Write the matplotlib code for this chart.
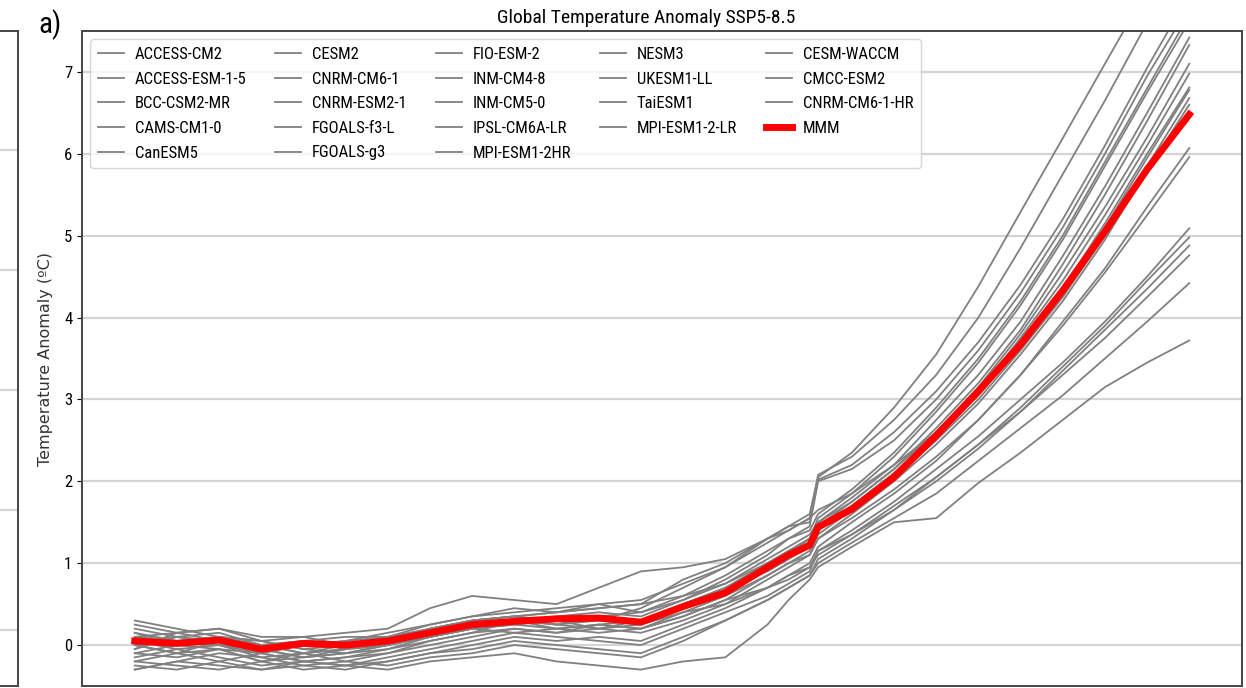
import matplotlib
matplotlib.use("Agg")
import matplotlib.pyplot as plt
import matplotlib.font_manager as fm

years = [1850, 1860, 1870, 1880, 1890, 1900, 1910, 1920, 1930, 1940, 1950, 1960, 1970, 1980,
         1990, 2000, 2005, 2010, 2012, 2020, 2030, 2040, 2050, 2060, 2070, 2080, 2090, 2100]

access_cm2 = [-0.15, -0.05, 0.0, -0.1, -0.2, -0.15, -0.1, 0.05, 0.15, 0.3, 0.2, 0.25, 0.2, 0.4,
              0.6, 0.95, 1.1, 1.3, 1.55, 1.85, 2.3, 2.85, 3.45, 4.15, 4.95, 5.85, 6.75, 7.62]
access_esm = [0.05, -0.05, -0.15, -0.25, -0.2, -0.15, -0.05, 0.05, 0.15, 0.2, 0.15, 0.2, 0.15, 0.3,
              0.5, 0.8, 0.95, 1.1, 1.3, 1.6, 2.0, 2.45, 2.95, 3.55, 4.2, 4.95, 5.8, 6.6]
bcc_csm2 = [0.25, 0.15, 0.2, 0.05, 0.1, 0.0, 0.05, 0.15, 0.25, 0.3, 0.3, 0.35, 0.3, 0.45,
            0.6, 0.85, 1.0, 1.1, 1.3, 1.55, 1.9, 2.3, 2.75, 3.3, 3.9, 4.55, 5.25, 5.96]
cams_cm1 = [-0.25, -0.3, -0.2, -0.1, -0.2, -0.25, -0.15, -0.05, 0.05, 0.15, 0.1, 0.05, 0.0, 0.2,
            0.4, 0.6, 0.75, 0.9, 1.15, 1.4, 1.75, 2.15, 2.55, 3.0, 3.45, 3.95, 4.5, 5.09]
canesm5 = [0.1, 0.15, 0.05, -0.1, 0.0, 0.05, 0.1, 0.25, 0.35, 0.45, 0.4, 0.5, 0.55, 0.75,
           0.95, 1.3, 1.45, 1.6, 2.05, 2.35, 2.9, 3.55, 4.38, 5.29, 6.19, 7.1, 8.0, 8.9]
cesm2 = [0.05, 0.1, 0.15, 0.0, 0.05, -0.05, 0.0, 0.1, 0.25, 0.3, 0.35, 0.4, 0.35, 0.55,
         0.8, 1.1, 1.3, 1.4, 1.6, 1.9, 2.35, 2.9, 3.5, 4.2, 5.0, 5.9, 6.8, 7.7]
cnrm_cm6 = [0.0, 0.05, 0.1, 0.05, -0.05, -0.1, 0.0, 0.15, 0.2, 0.3, 0.25, 0.2, 0.3, 0.5,
            0.7, 0.9, 1.05, 1.2, 1.45, 1.7, 2.1, 2.6, 3.15, 3.8, 4.55, 5.35, 6.2, 7.1]
cnrm_esm2 = [0.1, 0.05, 0.0, -0.05, -0.15, -0.05, 0.0, 0.1, 0.2, 0.25, 0.3, 0.3, 0.25, 0.45,
             0.65, 0.95, 1.1, 1.25, 1.5, 1.8, 2.2, 2.75, 3.3, 3.95, 4.75, 5.6, 6.5, 7.42]
fgoals_f3 = [-0.3, -0.2, -0.1, -0.15, -0.25, -0.3, -0.2, -0.1, 0.0, 0.1, 0.05, 0.1, 0.05, 0.25,
             0.45, 0.7, 0.85, 1.0, 1.2, 1.5, 1.85, 2.25, 2.75, 3.3, 3.95, 4.6, 5.35, 6.07]
fgoals_g3 = [0.0, -0.1, -0.2, -0.3, -0.25, -0.2, -0.25, -0.15, -0.1, 0.0, -0.05, -0.1, -0.15, 0.05,
             0.3, 0.55, 0.7, 0.85, 1.05, 1.3, 1.65, 2.05, 2.45, 2.9, 3.4, 3.9, 4.45, 4.98]
fio_esm2 = [0.3, 0.2, 0.1, 0.0, 0.05, 0.1, 0.1, 0.2, 0.3, 0.35, 0.4, 0.45, 0.5, 0.6,
            0.75, 1.0, 1.15, 1.3, 1.45, 1.7, 2.1, 2.55, 3.05, 3.65, 4.35, 5.1, 5.95, 6.78]
inm_cm48 = [-0.3, -0.2, -0.25, -0.3, -0.2, -0.25, -0.3, -0.2, -0.15, -0.1, -0.2, -0.25, -0.3, -0.2,
            -0.15, 0.25, 0.55, 0.8, 0.95, 1.2, 1.5, 1.55, 1.98, 2.35, 2.75, 3.15, 3.45, 3.72]
inm_cm50 = [-0.2, -0.25, -0.3, -0.2, -0.3, -0.25, -0.2, -0.1, -0.05, 0.05, 0.0, -0.05, -0.1, 0.1,
            0.3, 0.55, 0.7, 0.85, 1.0, 1.25, 1.55, 1.85, 2.25, 2.65, 3.05, 3.5, 3.95, 4.42]
ipsl_cm6a = [-0.05, 0.15, 0.2, 0.1, 0.1, 0.15, 0.2, 0.45, 0.6, 0.55, 0.5, 0.7, 0.9, 0.95,
             1.05, 1.3, 1.4, 1.55, 1.65, 1.85, 2.2, 2.6, 3.05, 3.65, 4.35, 5.15, 6.0, 6.81]
mpi_hr = [0.15, 0.05, 0.1, -0.05, -0.15, -0.1, 0.0, 0.1, 0.2, 0.25, 0.2, 0.15, 0.2, 0.35,
          0.55, 0.7, 0.85, 0.95, 1.15, 1.35, 1.65, 2.0, 2.4, 2.85, 3.35, 3.85, 4.35, 4.88]
nesm3 = [-0.2, -0.1, 0.05, 0.0, -0.1, -0.2, -0.1, 0.0, 0.1, 0.2, 0.15, 0.25, 0.3, 0.5,
         0.7, 1.0, 1.15, 1.3, 1.45, 1.75, 2.15, 2.65, 3.2, 3.85, 4.65, 5.5, 6.4, 7.33]
ukesm1 = [0.2, 0.1, 0.0, -0.15, -0.1, -0.05, 0.05, 0.2, 0.3, 0.35, 0.25, 0.3, 0.45, 0.7,
          0.95, 1.25, 1.4, 1.55, 2.08, 2.3, 2.75, 3.3, 4.0, 4.85, 5.75, 6.65, 7.6, 8.5]
taiesm1 = [0.15, 0.0, -0.05, -0.1, 0.0, 0.05, 0.15, 0.25, 0.35, 0.4, 0.45, 0.5, 0.4, 0.55,
           0.75, 1.05, 1.2, 1.35, 1.5, 1.75, 2.15, 2.6, 3.1, 3.75, 4.45, 5.25, 6.1, 6.98]
mpi_lr = [-0.05, 0.1, 0.05, 0.0, -0.1, -0.05, 0.05, 0.2, 0.3, 0.35, 0.3, 0.2, 0.25, 0.4,
          0.5, 0.7, 0.8, 0.95, 1.1, 1.35, 1.7, 2.05, 2.45, 2.85, 3.3, 3.75, 4.25, 4.76]
cesm_waccm = [-0.1, 0.0, 0.1, 0.05, -0.05, 0.0, 0.1, 0.15, 0.3, 0.35, 0.4, 0.45, 0.5, 0.8,
              1.0, 1.3, 1.45, 1.5, 2.02, 2.2, 2.6, 3.1, 3.7, 4.4, 5.2, 6.1, 7.05, 7.95]
cmcc_esm2 = [-0.1, -0.15, -0.05, -0.2, -0.1, 0.0, 0.05, 0.1, 0.2, 0.15, 0.2, 0.25, 0.2, 0.35,
             0.55, 0.85, 1.0, 1.15, 1.35, 1.65, 2.05, 2.5, 3.0, 3.6, 4.25, 5.0, 5.85, 6.68]
cnrm_cm6_hr = [0.0, -0.1, -0.05, -0.2, -0.15, -0.1, -0.05, 0.1, 0.2, 0.3, 0.25, 0.35, 0.4, 0.6,
               0.85, 1.15, 1.3, 1.45, 2.0, 2.15, 2.5, 3.0, 3.6, 4.3, 5.1, 6.0, 6.95, 7.8]

mmm = [0.05, 0.02, 0.06, -0.05, 0.02, 0.0, 0.05, 0.15, 0.25, 0.29, 0.32, 0.33, 0.28, 0.47,
       0.64, 0.95, 1.1, 1.22, 1.44, 1.66, 2.05, 2.56, 3.1, 3.67, 4.33, 5.05, 5.81, 6.48]

model_names = ['ACCESS-CM2', 'ACCESS-ESM-1-5', 'BCC-CSM2-MR', 'CAMS-CM1-0', 'CanESM5',
               'CESM2', 'CNRM-CM6-1', 'CNRM-ESM2-1', 'FGOALS-f3-L', 'FGOALS-g3',
               'FIO-ESM-2', 'INM-CM4-8', 'INM-CM5-0', 'IPSL-CM6A-LR', 'MPI-ESM1-2HR',
               'NESM3', 'UKESM1-LL', 'TaiESM1', 'MPI-ESM1-2-LR',
               'CESM-WACCM', 'CMCC-ESM2', 'CNRM-CM6-1-HR']
model_series = [access_cm2, access_esm, bcc_csm2, cams_cm1, canesm5,
                cesm2, cnrm_cm6, cnrm_esm2, fgoals_f3, fgoals_g3,
                fio_esm2, inm_cm48, inm_cm50, ipsl_cm6a, mpi_hr,
                nesm3, ukesm1, taiesm1, mpi_lr,
                cesm_waccm, cmcc_esm2, cnrm_cm6_hr]


def pick_narrow_font():
    '''look for a narrow sans font, the reference text is squeezed'''
    for fam in ['Roboto Condensed', 'Liberation Sans Narrow', 'Open Sans Condensed']:
        try:
            fm.findfont(fm.FontProperties(family=fam), fallback_to_default=False)
            return fam, None
        except ValueError:
            pass
    path = fm.findfont(fm.FontProperties(family='DejaVu Sans', stretch='condensed'))
    if 'Condensed' in path:
        return 'DejaVu Sans', 'condensed'
    return None, None


narrow, stretch = pick_narrow_font()
if narrow is not None:
    plt.rcParams['font.family'] = [narrow, 'DejaVu Sans']
    if stretch:
        plt.rcParams['font.stretch'] = stretch
    leg_size, title_size, tick_size = 12, 14, 12
else:
    plt.rcParams['font.family'] = ['DejaVu Sans']
    leg_size, title_size, tick_size = 10.2, 11.3, 11

W, H = 1246, 688
fig = plt.figure(figsize=(W / 100, H / 100), dpi=100)

# main panel
x0, x1, ytop, ybot = 82, 1242, 31, 686
ax = fig.add_axes([x0 / W, 1 - ybot / H, (x1 - x0) / W, (ybot - ytop) / H])

for name, vals in zip(model_names, model_series):
    ax.plot(years, vals, color='grey', lw=1.3, label=name)
ax.plot(years, mmm, color='red', lw=5, label='MMM')

ax.set_ylim(-0.5, 7.5)
ax.set_yticks(range(0, 8))
ax.tick_params(axis='y', labelsize=tick_size)
ax.tick_params(axis='x', labelbottom=False, length=0)
ax.grid(axis='y', color='#d4d4d4', lw=1.6)
ax.set_axisbelow(True)
for sp in ax.spines.values():
    sp.set_color('#444444')
    sp.set_linewidth(1.4)
ax.set_ylabel('Temperature Anomaly (ºC)', fontsize=11.5, family='DejaVu Sans',
              stretch='normal', color='#333333', labelpad=8)
ax.set_title('Global Temperature Anomaly SSP5-8.5', fontsize=title_size, x=0.486)

ax.legend(loc='upper left', ncol=5, fontsize=leg_size, handlelength=1.55,
          handletextpad=0.65, columnspacing=1.75, labelspacing=0.58,
          borderaxespad=0.5, borderpad=0.45)

fig.text(38 / W, 1 - 33 / H, 'a)', fontsize=21, ha='left', va='baseline')

# edge of the neighbouring panel on the left
axl = fig.add_axes([-0.1, 1 - ybot / H, 0.1 + 18 / W, (ybot - ytop) / H])
axl.set_ylim(-0.47, 4.99)
axl.set_yticks(range(0, 5))
axl.set_xticks([])
axl.tick_params(axis='y', length=0, labelleft=False)
axl.grid(axis='y', color='#d4d4d4', lw=1.6)
for sp in axl.spines.values():
    sp.set_color('#444444')
    sp.set_linewidth(1.4)

fig.savefig('out.png', dpi=100)
